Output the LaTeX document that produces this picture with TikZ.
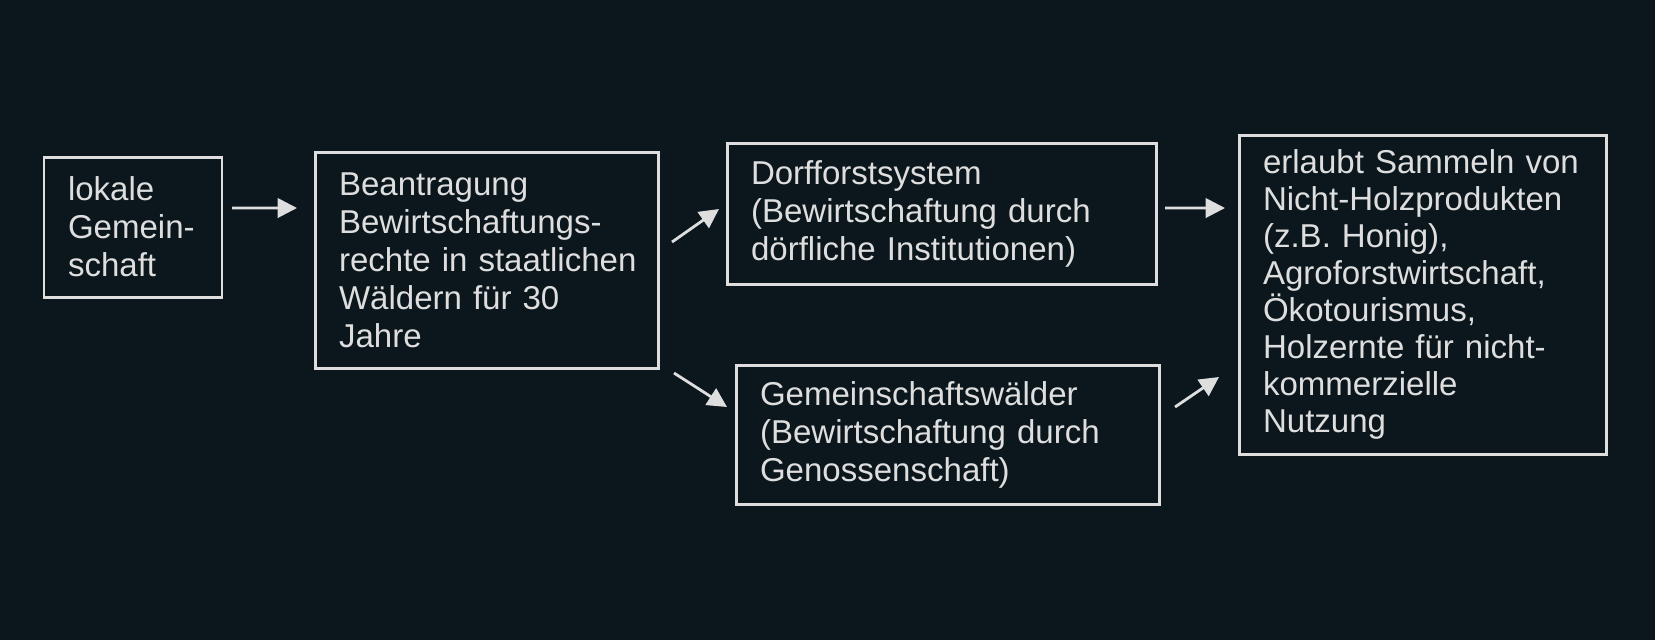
\documentclass[tikz,border=0pt]{standalone}
\usepackage{fontspec}
\setmainfont{Liberation Sans}
\usetikzlibrary{positioning,arrows.meta}
\definecolor{bgdark}{HTML}{0B171D}
\definecolor{chalk}{HTML}{DEDEDE}

\begin{document}
\begin{tikzpicture}[->,>={Triangle[length=5.5pt,width=5.5pt]},line width=0.8pt,
    color=chalk,
    box/.style={rectangle,draw,line width=0.85pt,text=chalk,align=left,outer sep=0pt,
      inner xsep=0.24cm,inner ysep=0pt,font=\fontsize{9.4}{10.8}\selectfont}]

\fill[bgdark] (0,0) rectangle (16.55,-6.40);

\node[box, text width=1.30cm, minimum height=1.40cm] (lokal) at (1.33,-2.27) {lokale\\Gemein-\\schaft};
\node[box, text width=2.95cm, minimum height=2.16cm] (beantr) [right=0.93cm of lokal, yshift=-0.33cm]
  {Beantragung\\Bewirtschaftungs-\\\mbox{rechte in staatlichen}\\Wäldern für 30\\Jahre};
\node[box, text width=3.81cm, minimum height=1.41cm] (dorf) [right=0.69cm of beantr, yshift=0.465cm]
  {Dorfforstsystem\\(Bewirtschaftung durch\\dörfliche Institutionen)};
\node[box, text width=3.75cm, minimum height=1.39cm] (gemein) [right=0.78cm of beantr, yshift=-1.745cm]
  {Gemeinschaftswälder\\(Bewirtschaftung durch\\Genossenschaft)};
\node[box, text width=3.19cm, minimum height=3.19cm, font=\fontsize{9.4}{10.5}\selectfont] (nutzung) [right=0.83cm of dorf, yshift=-0.81cm]
  {erlaubt Sammeln von\\Nicht-Holzprodukten\\(z.B. Honig),\\Agroforstwirtschaft,\\Ökotourismus,\\Holzernte für nicht-\\kommerzielle\\Nutzung};

\draw ([shift={(0.10,0.19)}]lokal.east) -- ([shift={(-0.18,0.52)}]beantr.west);
\draw ([shift={(0.14,0.18)}]beantr.east) -- ([shift={(-0.08,0.045)}]dorf.west);
\draw ([shift={(0.16,-1.13)}]beantr.east) -- ([shift={(-0.09,0.275)}]gemein.west);
\draw ([shift={(0.09,0.055)}]dorf.east) -- ([shift={(-0.14,0.865)}]nutzung.west);
\draw ([shift={(0.16,0.275)}]gemein.east) -- ([shift={(-0.20,-0.825)}]nutzung.west);

\end{tikzpicture}
\end{document}
